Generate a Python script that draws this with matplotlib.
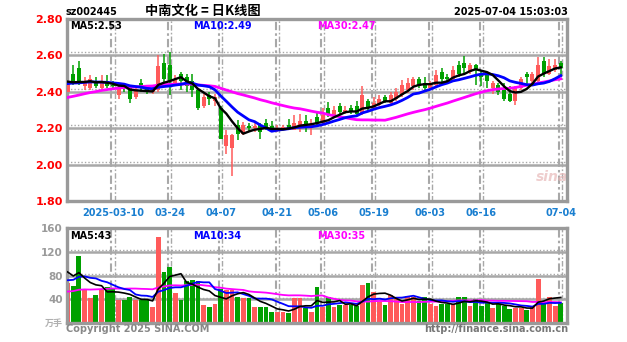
import numpy as np
import pandas as pd
import matplotlib.pyplot as plt

plt.rcParams['font.family'] = ['DejaVu Sans', 'Noto Sans CJK SC']

# Daily bars, 2025-02-27 .. 2025-07-04 (index 0..87)
opens = [2.40, 2.50, 2.53, 2.43, 2.42, 2.46, 2.42, 2.46, 2.44, 2.38,
         2.43, 2.42, 2.37, 2.45, 2.42, 2.40, 2.41, 2.56, 2.55, 2.45,
         2.50, 2.48, 2.46, 2.41, 2.32, 2.38, 2.35, 2.31, 2.10, 2.09,
         2.22, 2.17, 2.21, 2.20, 2.22, 2.23, 2.21, 2.19, 2.20, 2.22,
         2.19, 2.21, 2.24, 2.20, 2.26, 2.23, 2.31, 2.27, 2.32, 2.29,
         2.31, 2.32, 2.28, 2.35, 2.31, 2.33, 2.37, 2.34, 2.36, 2.38,
         2.41, 2.43, 2.47, 2.45, 2.42, 2.44, 2.51, 2.48, 2.47, 2.55,
         2.56, 2.51, 2.55, 2.50, 2.49, 2.42, 2.44, 2.42, 2.39, 2.35,
         2.42, 2.50, 2.46, 2.46, 2.57, 2.50, 2.52, 2.56]
highs = [2.49, 2.55, 2.57, 2.48, 2.49, 2.48, 2.49, 2.49, 2.46, 2.45,
         2.45, 2.43, 2.42, 2.47, 2.44, 2.43, 2.60, 2.61, 2.62, 2.49,
         2.51, 2.50, 2.50, 2.42, 2.39, 2.40, 2.39, 2.32, 2.19, 2.17,
         2.245, 2.235, 2.23, 2.24, 2.23, 2.25, 2.24, 2.22, 2.22, 2.25,
         2.27, 2.28, 2.27, 2.25, 2.29, 2.31, 2.345, 2.32, 2.34, 2.32,
         2.33, 2.35, 2.43, 2.36, 2.37, 2.38, 2.38, 2.40, 2.42, 2.465,
         2.475, 2.48, 2.48, 2.48, 2.46, 2.52, 2.53, 2.50, 2.54, 2.57,
         2.595, 2.56, 2.555, 2.52, 2.50, 2.46, 2.45, 2.45, 2.43, 2.43,
         2.48, 2.51, 2.51, 2.59, 2.59, 2.58, 2.58, 2.57]
lows = [2.39, 2.44, 2.44, 2.41, 2.41, 2.42, 2.41, 2.42, 2.41, 2.36,
        2.40, 2.34, 2.36, 2.40, 2.39, 2.39, 2.40, 2.44, 2.38, 2.43,
        2.41, 2.40, 2.37, 2.30, 2.31, 2.33, 2.32, 2.14, 2.06, 1.94,
        2.135, 2.16, 2.18, 2.18, 2.14, 2.19, 2.18, 2.18, 2.19, 2.19,
        2.19, 2.18, 2.18, 2.16, 2.21, 2.22, 2.26, 2.26, 2.27, 2.28,
        2.28, 2.27, 2.27, 2.29, 2.30, 2.32, 2.34, 2.33, 2.35, 2.37,
        2.395, 2.41, 2.42, 2.40, 2.41, 2.43, 2.44, 2.45, 2.46, 2.48,
        2.50, 2.50, 2.44, 2.43, 2.42, 2.39, 2.38, 2.35, 2.345, 2.33,
        2.41, 2.44, 2.45, 2.44, 2.48, 2.49, 2.51, 2.48]
closes = [2.46, 2.45, 2.45, 2.46, 2.47, 2.43, 2.46, 2.43, 2.43, 2.42,
          2.42, 2.36, 2.41, 2.42, 2.41, 2.41, 2.54, 2.47, 2.46, 2.47,
          2.46, 2.43, 2.41, 2.31, 2.37, 2.36, 2.37, 2.14, 2.16, 2.16,
          2.17, 2.22, 2.20, 2.21, 2.18, 2.20, 2.19, 2.20, 2.20, 2.20,
          2.23, 2.24, 2.22, 2.22, 2.23, 2.27, 2.28, 2.30, 2.29, 2.30,
          2.29, 2.28, 2.38, 2.31, 2.34, 2.36, 2.35, 2.38, 2.40, 2.44,
          2.45, 2.47, 2.43, 2.42, 2.44, 2.49, 2.47, 2.47, 2.52, 2.50,
          2.53, 2.55, 2.52, 2.48, 2.46, 2.45, 2.40, 2.36, 2.35, 2.42,
          2.47, 2.48, 2.50, 2.55, 2.50, 2.54, 2.55, 2.53]
volumes = [67, 62, 113, 57, 42, 47, 55, 61, 58, 39,
           39, 44, 39, 38, 38, 27, 145, 86, 95, 50,
           39, 71, 72, 70, 30, 27, 32, 58, 56, 56,
           44, 42, 42, 27, 27, 27, 19, 19, 19, 17,
           42, 42, 25, 19, 61, 27, 44, 27, 30, 30,
           30, 28, 64, 68, 53, 36, 30, 47, 40, 32,
           46, 43, 37, 43, 32, 29, 32, 32, 32, 43,
           43, 29, 40, 29, 35, 26, 32, 29, 24, 26,
           25, 22, 28, 74, 36, 44, 28, 33]

# earlier sessions, only used to seed the moving averages
prev_closes = [2.26, 2.25, 2.24, 2.27, 2.28, 2.26, 2.29, 2.30, 2.31, 2.33,
               2.32, 2.34, 2.36, 2.35, 2.38, 2.40, 2.39, 2.42, 2.44, 2.43,
               2.42, 2.44, 2.43, 2.45, 2.43, 2.47, 2.44, 2.46, 2.45]
prev_volumes = [38, 45, 41, 50, 36, 42, 48, 39, 44, 47,
                35, 40, 52, 46, 43, 49, 38, 45, 41, 50,
                55, 62, 50, 66, 57, 96, 85, 102, 80]

tick_pos = [8, 18, 27, 37, 45, 54, 64, 73, 87]
tick_labels = ['2025-03-10', '03-24', '04-07', '04-21', '05-06',
               '05-19', '06-03', '06-16', '07-04']

RED = '#ff5a5a'
GREEN = '#00a000'
GRID = '#a8a8a8'
W, H = 627, 342

n = len(closes)
x = np.arange(n)
c_all = pd.Series(prev_closes + closes)
v_all = pd.Series(prev_volumes + volumes)
ma = {p: c_all.rolling(p).mean().to_numpy()[-n:] for p in (5, 10, 30)}
vma = {p: v_all.rolling(p).mean().to_numpy()[-n:] for p in (5, 10, 30)}
colors = [RED if c >= o else GREEN for o, c in zip(opens, closes)]

fig = plt.figure(figsize=(W / 100, H / 100), dpi=100)
fig.patch.set_facecolor('white')


def box(l, t, r, b):
    return [l / W, 1 - b / H, (r - l) / W, (b - t) / H]


def draw_grid(ax, levels, off):
    for v in levels:
        ax.axhline(v, color=GRID, lw=1.8, zorder=0)
        ax.axhline(v + off, color=GRID, lw=1.0, ls=(0, (1, 1.5)), zorder=0)
    for p in tick_pos:
        ax.axvline(p - 0.3, color=GRID, lw=1.5, ls=(0, (4, 1.5, 1.2, 1.5)), zorder=0)
        ax.axvline(p + 0.3, color=GRID, lw=1.0, ls=(0, (4, 1.5, 1.2, 1.5)), zorder=0)
    for s in ax.spines.values():
        s.set_color('#9a9a9a')
        s.set_linewidth(2.4)


# price panel
ax = fig.add_axes(box(67, 19, 567, 201))
draw_grid(ax, [2.0, 2.2, 2.4, 2.6], 0.016)
ax.vlines(x, lows, highs, colors=colors, lw=1.1, zorder=2)
bodies = [max(abs(c - o), 0.004) for o, c in zip(opens, closes)]
ax.bar(x, bodies, bottom=np.minimum(opens, closes), width=0.72,
       color=colors, zorder=3)
ax.plot(x, ma[30], color='#ff00ff', lw=2.0, zorder=4)
ax.plot(x, ma[10], color='#0000ff', lw=2.0, zorder=5)
ax.plot(x, ma[5], color='black', lw=1.7, zorder=6)
ax.set_xlim(-0.1, 88.1)
ax.set_ylim(1.8, 2.8)
ax.set_yticks([1.8, 2.0, 2.2, 2.4, 2.6, 2.8])
ax.set_yticklabels(['%.2f' % v for v in [1.8, 2.0, 2.2, 2.4, 2.6, 2.8]],
                   color='red', fontsize=8, fontweight='bold')
ax.set_xticks(tick_pos)
ax.set_xticklabels(tick_labels, color='#1a7fd0', fontsize=7, fontweight='bold')
ax.tick_params(length=0, pad=3)
ax.tick_params(axis='x', pad=5)
ax.text(85.5, 1.93, 'sina', color='#e8b8b8', fontsize=10, fontweight='bold',
        style='italic', ha='center', va='center', alpha=0.7, zorder=1)

# volume panel
vx = fig.add_axes(box(67, 228, 567, 323))
draw_grid(vx, [40, 80, 120], 2.5)
vx.bar(x, volumes, width=0.86, color=colors, zorder=2)
vx.plot(x, vma[30], color='#ff00ff', lw=1.3, zorder=4)
vx.plot(x, vma[10], color='#0000ff', lw=1.3, zorder=5)
vx.plot(x, vma[5], color='black', lw=1.2, zorder=6)
vx.set_xlim(-0.1, 88.1)
vx.set_ylim(0, 160)
vx.set_yticks([40, 80, 120, 160])
vx.set_yticklabels(['40', '80', '120', '160'], color='#9a9a9a',
                   fontsize=7.5, fontweight='bold')
vx.set_xticks([])
vx.tick_params(length=0, pad=3)


def label(px, py, s, color, size=7, ha='left', family=None):
    kw = {'family': family} if family else {}
    fig.text(px / W, 1 - py / H, s, color=color, fontsize=size,
             fontweight='bold', ha=ha, va='center', **kw)


label(66, 12, 'sz002445', 'black')
label(203, 11, '中南文化 = 日K线图', 'black', 9.5, 'center',
      ['Noto Sans CJK SC', 'DejaVu Sans'])
label(568, 12, '2025-07-04 15:03:03', 'black', 7, 'right')
label(70, 26, 'MA5:%.2f' % ma[5][-1], 'black')
label(193, 26, 'MA10:%.2f' % ma[10][-1], '#0000ff')
label(317, 26, 'MA30:%.2f' % ma[30][-1], '#ff00ff')
label(70, 236, 'MA5:%.0f' % vma[5][-1], 'black')
label(193, 236, 'MA10:%.0f' % vma[10][-1], '#0000ff')
label(317, 236, 'MA30:%.0f' % vma[30][-1], '#ff00ff')
label(63, 323, '万手', '#b0b0b0', 6.5, 'right', ['Noto Sans CJK SC', 'DejaVu Sans'])
label(66, 329, 'Copyright 2025 SINA.COM', '#888888', 7)
label(568, 329, 'http://finance.sina.com.cn', '#777777', 7, 'right')

fig.savefig('out.png', dpi=100)
